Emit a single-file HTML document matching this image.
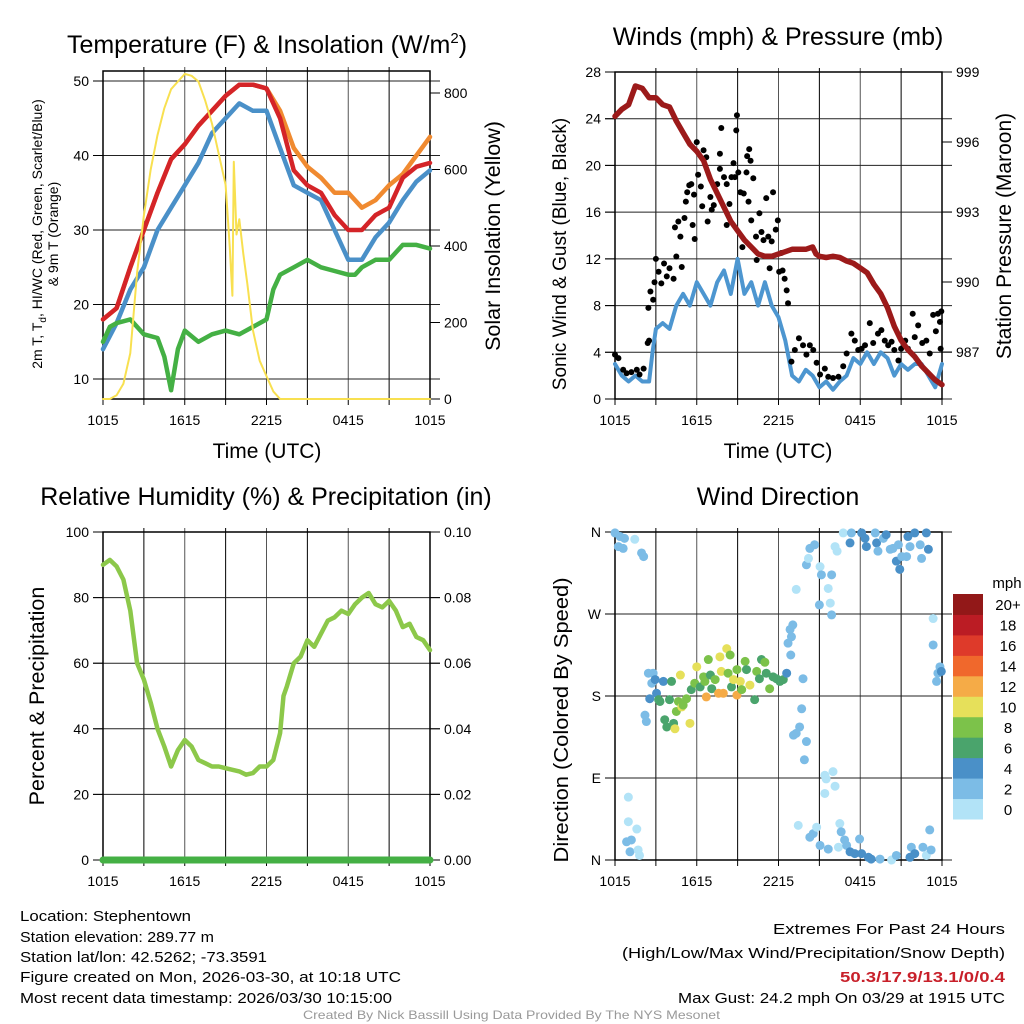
<!DOCTYPE html>
<html><head><meta charset="utf-8"><title>Stephentown Meteogram</title>
<style>
html,body{margin:0;padding:0;background:#fff;}
svg{display:block;font-family:"Liberation Sans",Arial,sans-serif;}
</style></head>
<body>
<svg id="chart" width="1024" height="1024" viewBox="0 0 1024 1024" xmlns="http://www.w3.org/2000/svg">
<rect x="0" y="0" width="1024" height="1024" fill="#fff"/>
<g id="p1"></g>
<g id="p2"></g>
<g id="p3"></g>
<g id="p4"></g>

<text x="267" y="53" font-size="25" text-anchor="middle">Temperature (F) &amp; Insolation (W/m<tspan font-size="15" dy="-10">2</tspan><tspan dy="10">)</tspan></text>
<text x="778" y="45" font-size="25" text-anchor="middle">Winds (mph) &amp; Pressure (mb)</text>
<text x="266" y="505" font-size="25" text-anchor="middle">Relative Humidity (%) &amp; Precipitation (in)</text>
<text x="778" y="505" font-size="25" text-anchor="middle">Wind Direction</text>

<text x="267" y="458" font-size="21" text-anchor="middle">Time (UTC)</text>
<text x="778" y="458" font-size="21" text-anchor="middle">Time (UTC)</text>

<g font-size="14" text-anchor="middle">
<text transform="translate(42,234) rotate(-90)">2m T, T<tspan font-size="10" dy="4">d</tspan><tspan dy="-4">, HI/WC (Red, Green, Scarlet/Blue)</tspan></text>
<text transform="translate(58,234) rotate(-90)">&amp; 9m T (Orange)</text>
</g>
<text transform="translate(500,236) rotate(-90)" font-size="21.5" text-anchor="middle">Solar Insolation (Yellow)</text>
<text transform="translate(566,254) rotate(-90)" font-size="19" text-anchor="middle">Sonic Wind &amp; Gust (Blue, Black)</text>
<text transform="translate(1011,236) rotate(-90)" font-size="21" text-anchor="middle">Station Pressure (Maroon)</text>
<text transform="translate(44,696) rotate(-90)" font-size="21.5" text-anchor="middle">Percent &amp; Precipitation</text>
<text transform="translate(568,720) rotate(-90)" font-size="20" text-anchor="middle" textLength="285" lengthAdjust="spacingAndGlyphs">Direction (Colored By Speed)</text>

<g font-size="15">
<text x="20" y="921" textLength="171" lengthAdjust="spacingAndGlyphs">Location: Stephentown</text>
<text x="20" y="942" textLength="194" lengthAdjust="spacingAndGlyphs">Station elevation: 289.77 m</text>
<text x="20" y="962" textLength="247" lengthAdjust="spacingAndGlyphs">Station lat/lon: 42.5262; -73.3591</text>
<text x="20" y="982" textLength="381" lengthAdjust="spacingAndGlyphs">Figure created on Mon, 2026-03-30, at 10:18 UTC</text>
<text x="20" y="1003" textLength="372" lengthAdjust="spacingAndGlyphs">Most recent data timestamp: 2026/03/30 10:15:00</text>
</g>
<g font-size="15">
<text x="773" y="934" textLength="232" lengthAdjust="spacingAndGlyphs">Extremes For Past 24 Hours</text>
<text x="622" y="958" textLength="383" lengthAdjust="spacingAndGlyphs">(High/Low/Max Wind/Precipitation/Snow Depth)</text>
<text x="840" y="982" textLength="165" lengthAdjust="spacingAndGlyphs" fill="#c8202a" font-weight="bold">50.3/17.9/13.1/0/0.4</text>
<text x="678" y="1003" textLength="327" lengthAdjust="spacingAndGlyphs">Max Gust: 24.2 mph On 03/29 at 1915 UTC</text>
</g>
<text x="303" y="1019" font-size="12" fill="#999" textLength="417" lengthAdjust="spacingAndGlyphs">Created By Nick Bassill Using Data Provided By The NYS Mesonet</text>
</svg>
<script>
// ---------- shared ----------
const timeTicks = ["1015","1615","2215","0415","1015"];
// ---------- panel 1 data ----------
const tempHours = [0,1,2,3,4,5,6,7,8,9,10,11,12,13,14,15,16,17,18,19,20,21,22,23,24];
const airTemp = [18,19.5,25,30,35,39.5,41.5,44,46,48,49.5,49.5,49,45,38,36,35,32,30,30,32,33,37,38.5,39];
const nineMTemp = [18,19.5,25,30,35,39.5,41.5,44,46,48,49.5,49.5,49,46,41,38.5,37,35,35,33,34,36,37.5,40,42.5];
const windChill = [14,17.5,22,25,30,33,36,39,43,45,47,46,46,41,36,35,34,30,26,26,29,31,34,36.5,38];
const dewHours = [0,0.5,1,2,3,4,4.5,5,5.5,6,7,8,9,10,11,12,12.5,13,14,15,16,17,18,18.5,19,20,21,22,23,24];
const dewPoint = [15,17,17.5,18,16,15.5,13,8.5,14,16.5,15,16,16.5,16,17,18,22,24,25,26,25,24.5,24,24,25,26,26,28,28,27.5];
const solarHours = [0,0.5,1,1.5,2,2.5,3,3.5,4,4.5,5,5.5,6,6.5,7,7.5,8,8.5,9,9.3,9.5,9.6,9.8,10,10.3,10.6,11,11.5,12,12.5,13,24];
const solar = [0,0,10,40,120,330,480,600,690,760,810,830,850,845,830,780,720,640,560,400,270,620,430,470,380,300,180,100,60,20,0,0];
const tempTicks = [10,20,30,40,50];
const solarTicks = [0,200,400,600,800];
// ---------- panel 2 data ----------
const windHours = [0,0.5,1,1.5,2,2.5,2.75,3,3.5,4,4.5,5,5.5,6,6.5,7,7.5,8,8.5,9,9.5,10,10.5,11,11.5,12,12.5,13,13.5,14,14.5,15,15.5,16,16.5,17,17.5,18,18.5,19,19.5,20,20.5,21,21.5,22,22.5,23,23.5,24];
const sonicWind = [3,2,1.5,2,1.5,1.5,4,6,6.5,6,8,9,8,10,9,8,10,11,9,12,9,10,8,10,8,7,5,2,1.5,2.5,2,1,1.5,0.8,1.5,2,3.5,3,4,3,4,3.5,2,3,2.5,3,3,2,1,3];
const gustHours = [0,0.25,0.6,0.85,1.2,1.6,1.8,2.1,2.4,2.5,2.45,2.6,2.8,2.9,3,3.2,3.4,3.6,3.8,4,4.3,4.4,4.5,4.65,4.8,4.9,5.1,5.2,5.3,5.45,5.6,5.7,5.8,5.85,6,6.1,6.3,6.4,6.5,6.7,6.8,7,7.1,7.25,7.5,7.7,7.7,7.8,8,8.2,8.2,8.4,8.55,8.7,8.8,8.9,8.95,9.05,9.2,9.35,9.45,9.65,9.7,9.85,9.95,9.8,10,10.15,10.35,10.4,10.6,10.75,10.9,11.1,11.25,11.35,11.5,11.6,11.8,11.95,12.05,12.2,12.3,12.45,12.6,12.7,12.95,13.2,13.5,13.8,14.05,14.3,14.55,14.8,15.05,15.4,15.65,16,16.4,16.75,17,17.35,17.6,17.85,18.1,18.35,18.7,18.95,19.3,19.55,19.8,20.05,20.3,20.5,20.8,21,21.3,21.5,21.85,22,22.25,22.55,22.85,23.1,23.35,23.55,23.7,23.85,23.9,23.95];
const gustSpeed = [3.8,3.5,2.5,2.2,2.3,2.5,2.1,2.6,4.8,5,7.8,9.2,8.5,10,12,10.9,9.9,11.6,10.5,11.2,10.3,14.7,12.2,15.2,13.9,11.3,15.5,16.9,17.7,18.3,18.4,14.9,17.5,13.7,22,19.2,18.2,16.5,21.3,20.7,15.2,17.3,16.2,16.6,18.4,21,19.7,23.2,19,18.4,14.9,16.7,19,20.2,19,23,24.3,19.4,17.7,13,17.6,19.4,20.8,21.4,20.4,16.9,15.3,18.9,13.9,11.9,15.9,14.3,13.6,17.2,13.9,11.2,13.5,17.7,14.5,15.3,10.9,12.5,11,10.3,9.3,8.2,3.2,4.2,5.2,4.6,3.8,4.6,4.2,3.1,2.1,2.6,1.9,1.8,1.9,2.8,3.9,5.6,5,4.2,4.3,4.6,6.5,4.8,5.6,5.9,5,4.6,4.9,4.2,3.3,4.3,5,4.3,7.3,5.3,6.3,4.8,5,3.9,7.2,5.8,7.3,6.6,4.3,7.5];
const pressHours = [0,0.5,1,1.5,2,2.5,3,3.5,4,4.5,5,5.5,6,6.5,7,7.5,8,8.5,9,9.5,10,10.5,11,11.5,12,12.5,13,13.5,14,14.5,14.75,15,15.5,16,16.5,17,17.5,18,18.5,19,19.5,20,20.5,21,21.5,22,22.5,23,23.5,24];
const pressure = [997.1,997.4,997.6,998.4,998.3,997.9,997.9,997.6,997.5,996.9,996.4,995.9,995.6,995.2,994.4,993.8,993.2,992.6,992.2,991.8,991.5,991.2,991.1,991.1,991.2,991.3,991.4,991.4,991.4,991.5,991.2,991.1,991.05,991.1,991.05,990.9,990.8,990.6,990.4,989.9,989.5,988.9,988.1,987.5,987.1,986.8,986.4,986.1,985.8,985.6];
const windTicks = [0,4,8,12,16,20,24,28];
const pressTicks = [987,990,993,996,999];
// ---------- panel 3 data ----------
const rhHours = [0,0.5,1,1.5,2,2.5,3,3.5,4,4.5,5,5.5,6,6.5,7,7.5,8,8.5,9,9.5,10,10.5,11,11.5,12,12.5,13,13.25,13.5,14,14.5,15,15.5,16,16.5,17,17.5,18,18.5,19,19.5,20,20.5,21,21.5,22,22.5,23,23.5,24];
const relHum = [90,91.5,89.5,85.5,76,60,55,48,40,34.6,28.5,33.5,36.6,34.6,30.5,29.5,28.5,28.5,28,27.5,27,26,26.5,28.5,28.5,30.5,38.7,50,53,60,62,67,65,69,73,74,76,75,78,80,81.4,78,77,79,76,71,72,68,67,64];
const precipHours = [0,24];
const precip = [0,0];
const rhTicks = [0,20,40,60,80,100];
const precipTicks = ["0.00","0.02","0.04","0.06","0.08","0.10"];
// ---------- panel 4 data ----------
const dirHours = [0,0.37,0.25,0.6,0.7,1.45,1.95,2.1, 0.98,0.98,1.6,0.85,1.2,1.1,1.7,1.8,
 2.2,2.3,2.45,2.7,2.8,2.55,2.95,3.05,3.2,3.3,3.55,3.65,3.8,4.0,4.15,4.3,4.4,4.5,4.65,4.8,4.9,5,5.25,5.5,5.6,5.85,6,6.25,6.5,6.6,6.7,6.85,7,7.1,7.35,7.6,7.7,7.8,7.95,8.2,8.3,8.45,8.55,8.7,8.95,8.95,9.2,9.3,9.55,9.65,9.9,10.25,10.4,10.6,10.75,11,11.1,11.35,11.6,11.85,12.1,12.35,12.6,
 12.7,12.85,12.95,13.05,12.9,13.8,13.7,13.55,13.3,13.1,14.05,13.9,
 14.05,14.2,14.3,14.65,13.3,15.05,15.15,15.9,15.65,15.8,15,15.9,16.15,16.3,16.75,17.25,17.35,18.1,18.35,18.45,19.1,19.2,19.3,19.7,19.9,20.2,20.4,20.65,20.8,20.9,21.05,21.4,21.5,21.65,22,22.4,22.5,22.85,23,23.35,23.35,23.7,23.85,23.95,23.6,
 13.45,14.3,14.55,14.8,15.05,15.4,15.5,16,16.15,15.4,15.65,16.4,16.5,16.6,16.85,17,17.25,17.6,17.95,18.1,18.6,18.8,19.45,20.3,20.65,21.65,21.75,22,22.6,22.85,23.1,23.2];
const dirDeg = [359,355,344,342,353,352,337,333, 69,42,34,20,22,9,11,5,
 159,152,205,194,205,177,198,183,176,174,196,154,146,176,196,150,144,163,174,203,168,170,177,150,187,194,212,190,201,196,179,220,203,188,198,183,223,207,183,232,205,225,190,198,209,181,196,187,218,209,192,176,207,199,220,217,205,188,201,199,196,198,205,
 238,253,245,258,225,199,166,146,139,137,130,110,
 324,331,342,346,297,322,313,313,298,282,280,269,344,339,359,348,359,359,353,344,359,348,339,353,357,341,342,328,346,319,333,333,355,344,359,346,331,359,341,265,236,205,212,207,196,
 38,25,29,36,16,93,89,97,81,73,12,14,40,31,22,16,9,7,23,7,3,1,1,0,5,3,14,7,14,5,33,11];
const dirSpeed = [2,2,3,2,2,1,2,2, 1,1,1,2,2,2,1,1,
 2,2,3,2,3,4,5,4,6,6,5,7,6,7,6,7,10,9,8,10,10,9,8,11,6,8,10,7,9,9,13,8,7,7,9,12,10,10,12,10,9,8,7,11,9,12,10,9,8,6,10,6,8,7,7,8,7,8,6,6,7,6,5,
 3,2,2,3,2,3,3,2,2,2,3,3,
 2,1,2,2,1,1,2,2,1,1,2,2,1,1,1,4,3,4,4,4,3,5,3,3,4,3,3,4,2,4,3,3,4,3,4,3,3,4,5,1,3,2,3,4,2,
 1,2,2,1,3,1,1,1,1,1,2,1,1,2,3,3,4,4,3,4,4,4,3,1,2,4,3,4,3,1,3,2];
const dirTicks = ["N","E","S","W","N"];
const speedBins = ["0","2","4","6","8","10","12","14","16","18","20+"];
const speedColors = ["#b2e3f7","#7cbce6","#4a90c8","#4aa46c","#7cc24a","#e6e05a","#f5ab47","#f0682c","#de3a2a","#bb1c24","#921818"];

// ---------- helpers ----------
const NS = "http://www.w3.org/2000/svg";
function mk(parent, tag, attrs, text){
  const e = document.createElementNS(NS, tag);
  for (const k in attrs) e.setAttribute(k, attrs[k]);
  if (text !== undefined) e.textContent = text;
  parent.appendChild(e);
  return e;
}
function linScale(d0,d1,r0,r1){ return v => r0 + (v-d0)*(r1-r0)/(d1-d0); }
function pathFrom(xs, ys, sx, sy){
  return xs.map((h,i)=>(i?"L":"M")+sx(h).toFixed(1)+","+sy(ys[i]).toFixed(1)).join("");
}
function frame(g, x0, x1, y0, y1, hGrid, vGrid, sy){
  if (vGrid) for (let h=3; h<24; h+=3){
    const l = mk(g,"line",{x1:x0+(x1-x0)*h/24,x2:x0+(x1-x0)*h/24,y1:y0-4,y2:y1,stroke:(h%6?"#000":"#555"),"stroke-width":1});
    
    
  }
  hGrid.forEach(v=>{
    const l = mk(g,"line",{x1:x0-10,x2:x1+10,y1:sy(v),y2:sy(v),stroke:"#222","stroke-width":1});
    
    
  });
  const b = mk(g,"rect",{x:x0,y:y0,width:x1-x0,height:y1-y0,fill:"none",stroke:"#000","stroke-width":1.5});
  
  
}
function xAxis(g, x0, x1, y){
  timeTicks.forEach((t,i)=>{
    const x = x0+(x1-x0)*i/4;
    const tk = mk(g,"line",{x1:x,x2:x,y1:y,y2:y+6,stroke:"#000"});
    
    
    const tx = mk(g,"text",{x:x,y:y+26,"font-size":14,"text-anchor":"middle"},t);
    
    
  });
  for (let h=3; h<24; h+=6){
    const x = x0+(x1-x0)*h/24;
    const tk = mk(g,"line",{x1:x,x2:x,y1:y,y2:y+6,stroke:"#000"});
    
    
  }
}
function yTicks(g, vals, labels, sy, x, side){
  vals.forEach((v,i)=>{
    const y = sy(v);
    const tk = mk(g,"line",{x1:x,x2:x+(side<0?-10:10),y1:y,y2:y,stroke:"#000"});
    
    
    const tx = mk(g,"text",{x:x+(side<0?-14:14),y:y+5,"font-size":14,"text-anchor":(side<0?"end":"start")},labels[i]);
    
    
  });
}
function drawLine(g, xs, ys, sx, sy, color, w, name){
  const p = mk(g,"path",{d:pathFrom(xs,ys,sx,sy),fill:"none",stroke:color,"stroke-width":w,"stroke-linejoin":"round","stroke-linecap":"round"});
  
  
  return p;
}

// ---------- panel 1 ----------
(function(){
  const g = document.getElementById("p1");
  const X0=103, X1=430, Y0=71, Y1=399;
  const sx = linScale(0,24,X0,X1);
  const sy = linScale(10,50,379,81);
  const sr = linScale(0,800,399,93);
  frame(g,X0,X1,Y0,Y1,tempTicks,true,sy);
  xAxis(g,X0,X1,Y1);
  yTicks(g,tempTicks,tempTicks.map(String),sy,X0,-1);
  yTicks(g,solarTicks,solarTicks.map(String),sr,X1,1);
  drawLine(g,tempHours,windChill,sx,sy,"#4a90c8",4.5,"wind-chill-line");
  drawLine(g,tempHours,nineMTemp,sx,sy,"#f08a30",4.5,"9m-temperature-line");
  drawLine(g,tempHours,airTemp,sx,sy,"#d42428",4.5,"2m-temperature-line");
  drawLine(g,dewHours,dewPoint,sx,sy,"#44b044",4.5,"dew-point-line");
  drawLine(g,solarHours,solar,sx,sr,"#f8e050",2,"solar-insolation-line");
})();

// ---------- panel 2 ----------
(function(){
  const g = document.getElementById("p2");
  const X0=615, X1=942, Y0=72, Y1=399;
  const sx = linScale(0,24,X0,X1);
  const sy = linScale(0,28,399,72);
  const sp = linScale(987,999,352,72);
  frame(g,X0,X1,Y0,Y1,windTicks,true,sy);
  xAxis(g,X0,X1,Y1);
  yTicks(g,windTicks,windTicks.map(String),sy,X0,-1);
  yTicks(g,pressTicks,pressTicks.map(String),sp,X1,1);
  drawLine(g,windHours,sonicWind,sx,sy,"#4d96d0",4,"sonic-wind-line");
  gustHours.forEach((h,i)=>{
    const c = mk(g,"circle",{cx:sx(h),cy:sy(gustSpeed[i]),r:3,fill:"#000"});
    
    
  });
  drawLine(g,pressHours,pressure,sx,sp,"#9c1a1a",5.5,"pressure-line");
})();

// ---------- panel 3 ----------
(function(){
  const g = document.getElementById("p3");
  const X0=103, X1=430, Y0=532, Y1=860;
  const sx = linScale(0,24,X0,X1);
  const sy = linScale(0,100,860,532);
  const sp = linScale(0,0.1,860,532);
  frame(g,X0,X1,Y0,Y1,[20,40,60,80,100],true,sy);
  xAxis(g,X0,X1,Y1);
  yTicks(g,rhTicks,rhTicks.map(String),sy,X0,-1);
  yTicks(g,precipTicks.map(Number),precipTicks,sp,X1,1);
  drawLine(g,rhHours,relHum,sx,sy,"#8cc84a",4.5,"relative-humidity-line");
  drawLine(g,precipHours,precip,sx,sp,"#44b044",7,"precipitation-line");
})();

// ---------- panel 4 ----------
(function(){
  const g = document.getElementById("p4");
  const X0=615, X1=942, Y0=532, Y1=860;
  const sx = linScale(0,24,X0,X1);
  const sy = linScale(0,360,860,532);
  frame(g,X0,X1,Y0,Y1,[90,180,270,360,0],true,sy);
  xAxis(g,X0,X1,Y1);
  yTicks(g,[0,90,180,270,360],dirTicks,sy,X0,-1);
  dirHours.forEach((h,i)=>{
    const bin = Math.min(10, Math.floor(dirSpeed[i]/2));
    const c = mk(g,"circle",{cx:sx(h),cy:sy(dirDeg[i]),r:4.5,fill:speedColors[bin]});
    
    
  });
  const cb = mk(g,"g",{});
  
  
  const bh = (819-594)/speedBins.length;
  speedBins.forEach((lab,i)=>{
    const y = 819 - (i+1)*bh;
    const r = mk(cb,"rect",{x:953,y:y,width:30,height:bh+0.5,fill:speedColors[i]});
    
    
    const t = mk(cb,"text",{x:1008,y:y+bh/2+6,"font-size":15,"text-anchor":"middle"},lab);
    
    
  });
  const u = mk(cb,"text",{x:1007,y:588,"font-size":15,"text-anchor":"middle"},"mph");
  
  
})();
</script>
</body></html>
